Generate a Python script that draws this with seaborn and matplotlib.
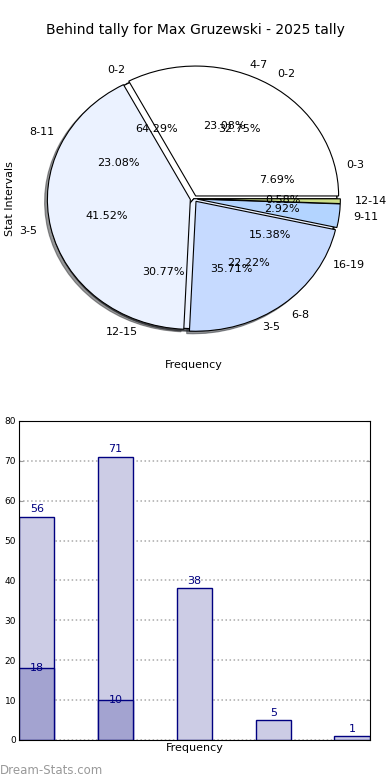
import seaborn as sns
import pandas as pd
import numpy as np
import matplotlib.pyplot as plt

# data
main_intervals = ["0-2", "3-5", "6-8", "9-11", "12-14"]
main_counts = [56, 71, 38, 5, 1]

split_intervals = ["0-2", "3-5"]
split_counts = [18, 10]

wide_intervals = ["0-3", "4-7", "8-11", "12-15", "16-19"]
wide_counts = [1, 3, 3, 4, 2]

pie_colors = ["#ffffff", "#ebf2ff", "#c6daff", "#b3d4ff", "#cde08a"]
light_bar = "#ccccE5"
dark_bar = "#a3a3d0"
navy = "#000080"

sns.set_style("white")
plt.rcParams["font.family"] = ["DejaVu Sans"]
plt.rcParams["text.color"] = "black"
plt.rcParams["axes.labelcolor"] = "black"
plt.rcParams["ytick.color"] = "black"

fig = plt.figure(figsize=(3.9, 7.8), dpi=100)

# pie: three pies stacked on top of each other
ax1 = fig.add_axes([0.0205, 0.5287, 0.953, 0.433])
wp = dict(edgecolor="black", linewidth=0.8)
tp = dict(fontsize=8)
shd = dict(ox=-0.014, oy=-0.014, shade=0.8)
ax1.pie(wide_counts, labels=wide_intervals, colors=pie_colors, autopct="%1.2f%%",
        shadow=shd, wedgeprops=wp, textprops=tp)
ax1.pie(split_counts, labels=split_intervals, colors=pie_colors, autopct="%1.2f%%",
        shadow=shd, wedgeprops=wp, textprops=tp)
ax1.pie(main_counts, labels=main_intervals, colors=pie_colors, autopct="%1.2f%%",
        explode=[0.025] * len(main_counts), shadow=shd, wedgeprops=wp, textprops=tp)
ax1.set_aspect("auto")
ax1.set_xlim(-1.3, 1.3)
ax1.set_ylim(-1.3, 1.3)
ax1.set_xlabel("Frequency", fontsize=8)
ax1.set_ylabel("Stat Intervals", fontsize=8)
ax1.xaxis.set_label_coords(0.5, 0.022)
ax1.yaxis.set_label_coords(0.019, 0.502)

fig.suptitle("Behind tally for Max Gruzewski - 2025 tally", fontsize=10, y=1 - 30 / 780, va="center")

# bar chart
ax2 = fig.add_axes([0.0487, 0.0513, 0.9, 0.409])
bars = pd.DataFrame({"interval": main_intervals, "count": main_counts})
split = pd.DataFrame({"interval": split_intervals, "count": split_counts})
sns.barplot(data=bars, x="interval", y="count", order=main_intervals, width=0.45,
            color=light_bar, saturation=1, edgecolor=navy, linewidth=1, ax=ax2)
sns.barplot(data=split, x="interval", y="count", order=main_intervals, width=0.45,
            color=dark_bar, saturation=1, edgecolor=navy, linewidth=1, ax=ax2)

for i, v in enumerate(main_counts):
    ax2.text(i, v + 0.6, str(v), ha="center", va="bottom", color=navy, fontsize=8)
for i, v in enumerate(split_counts):
    ax2.text(i, v, str(v), ha="center", va="center", color=navy, fontsize=8)

ax2.set_xlim(-0.225, len(main_counts) - 1 + 0.225)
ax2.set_ylim(0, 80)
ax2.set_yticks(range(0, 81, 10))
ax2.set_xticks([])
ax2.yaxis.grid(True, linestyle=":", color="#aaaaaa", linewidth=1.1)
ax2.set_axisbelow(True)
ax2.tick_params(axis="y", labelsize=6.5, length=3, pad=2, direction="in", left=True, right=True, color="#999999")
for s in ax2.spines.values():
    s.set_color("black")
    s.set_linewidth(0.8)
ax2.set_xlabel("Frequency", fontsize=8, labelpad=2)
ax2.set_ylabel("")

fig.text(0.0, 1 - 770 / 780, "Dream-Stats.com", color="#999999", fontsize=8.5, ha="left", va="center")

fig.savefig("out.png", dpi=100)
